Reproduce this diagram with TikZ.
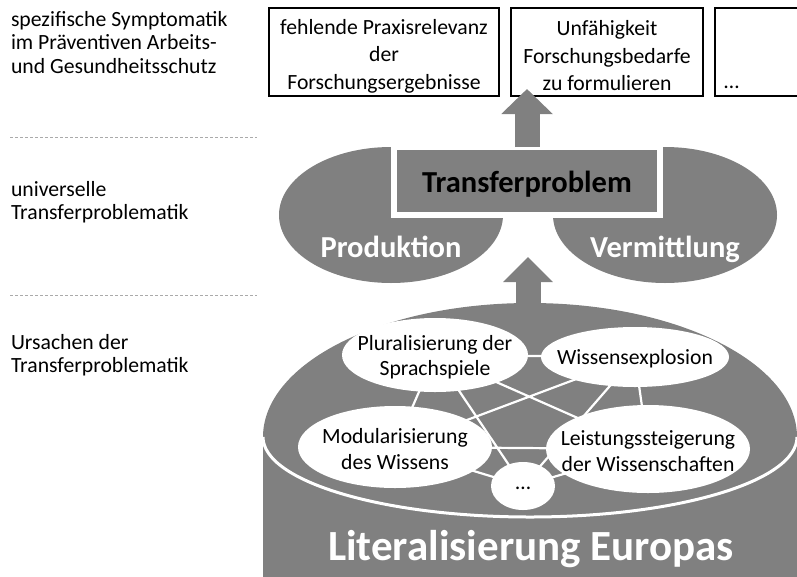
\documentclass[tikz,border=0pt]{standalone}
\usepackage{fontspec}
\setmainfont{Carlito}
\usetikzlibrary{shapes.geometric,arrows.meta}
\definecolor{panelgray}{RGB}{128,128,128}
\definecolor{rulegray}{RGB}{170,170,170}

\begin{document}
\begin{tikzpicture}[x=1pt,y=-1pt,
  every node/.style={inner sep=0pt, outer sep=0pt},
  sidetext/.style={anchor=base west, font=\fontsize{21.7}{23.5}\selectfont},
  symbox/.style={draw=black, line width=1.6pt, minimum height=88pt},
  symtext/.style={align=center, yshift=-4pt, font=\fontsize{21.7}{27.5}\selectfont},
  layer/.style={ellipse, fill=panelgray, minimum width=224pt, minimum height=136pt},
  bigword/.style={anchor=base, text=white, font=\bfseries\fontsize{30.5}{36}\selectfont},
  idea/.style={ellipse, fill=white},
  ideatext/.style={align=center, yshift=-2pt, font=\fontsize{21.7}{25.5}\selectfont},
  link/.style={white, line width=2.2pt},
  sepline/.style={rulegray, line width=1pt, dash pattern=on 3pt off 2pt},
  fatarrow/.style={panelgray, line width=25pt, -{Triangle[width=50pt,length=25pt]}},
]
\useasboundingbox (0,0) rectangle (797,576);

% left column: level captions and separators
\node[sidetext] (cap1) at (11,26) {\vtop{\hbox{spezifische Symptomatik}\hbox{im Präventiven Arbeits-}\hbox{und Gesundheitsschutz}}};
\draw[sepline] (10,137) -- (257,137);
\node[sidetext] (cap2) at (11,196) {\vtop{\hbox{universelle}\hbox{Transferproblematik}}};
\draw[sepline] (10,295) -- (257,295);
\node[sidetext] (cap3) at (11,349) {\vtop{\hbox{Ursachen der}\hbox{Transferproblematik}}};

% base: cylinder with an inner rim
\fill[panelgray] (530,437) ellipse [x radius=267pt, y radius=134pt];
\fill[panelgray] (263,437) rectangle (800,580);
\draw[white, line width=3pt] (263,437) arc [start angle=180, end angle=360, x radius=267pt, y radius=80pt];
\node[bigword, font=\bfseries\fontsize{43}{50}\selectfont] (lit) at (531,560) {Literalisierung Europas};

% causes, all linked to each other
\coordinate (cP) at (435,355);
\coordinate (cW) at (635,357);
\coordinate (cM) at (395,447);
\coordinate (cL) at (648,449);
\coordinate (cD) at (523,486);
\draw[link] (cP) -- (cW) (cP) -- (cM) (cP) -- (cL) (cP) -- (cD)
            (cW) -- (cM) (cW) -- (cL) (cW) -- (cD)
            (cM) -- (cL) (cM) -- (cD) (cL) -- (cD);
\node[idea, minimum width=186pt, minimum height=74pt,
      label={[ideatext]center:{Pluralisierung der\\Sprachspiele}}] (plur) at (cP) {};
\node[idea, minimum width=188pt, minimum height=60pt,
      label={[ideatext]center:{Wissensexplosion}}] (expl) at (cW) {};
\node[idea, minimum width=194pt, minimum height=82pt,
      label={[ideatext]center:{Modularisierung\\des Wissens}}] (modu) at (cM) {};
\node[idea, minimum width=204pt, minimum height=88pt,
      label={[ideatext]center:{Leistungssteigerung\\der Wissenschaften}}] (leis) at (cL) {};
\node[idea, minimum width=64pt, minimum height=48pt,
      label={[ideatext]center:{…}}] (more) at (cD) {};

% universal level
\node[layer] (prod) at (391,215) {};
\node[layer] (verm) at (665,215) {};
\node[bigword] (prodtxt) at (391,257) {Produktion};
\node[bigword] (vermtxt) at (665,257) {Vermittlung};
\node[rectangle, fill=panelgray, draw=white, line width=6pt,
      minimum width=266pt, minimum height=68pt] (tp) at (527,181) {};
\node[bigword, text=black] (tptxt) at (527,192) {Transferproblem};

% specific symptoms
\node[symbox, minimum width=230pt,
      label={[symtext]center:{fehlende Praxisrelevanz\\der\\Forschungsergebnisse}}] (sym1) at (384,52) {};
\node[symbox, minimum width=192pt,
      label={[symtext]center:{Unfähigkeit\\Forschungsbedarfe\\zu formulieren}}] (sym2) at (607,52) {};
\node[symbox, minimum width=185pt] (sym3) at (807.5,52) {};
\node[anchor=base west, font=\fontsize{21.7}{27.5}\selectfont] (sym3txt) at (724,88) {…};

% upward arrows
\coordinate (up1) at (527,89);
\coordinate (foot2) at (528,306);
\coordinate (up2) at (528,257);
\draw[fatarrow] (tp.north) -- (up1);
\draw[fatarrow, -{Triangle[width=48pt,length=25pt]}] (foot2) -- (up2);
\end{tikzpicture}
\end{document}
